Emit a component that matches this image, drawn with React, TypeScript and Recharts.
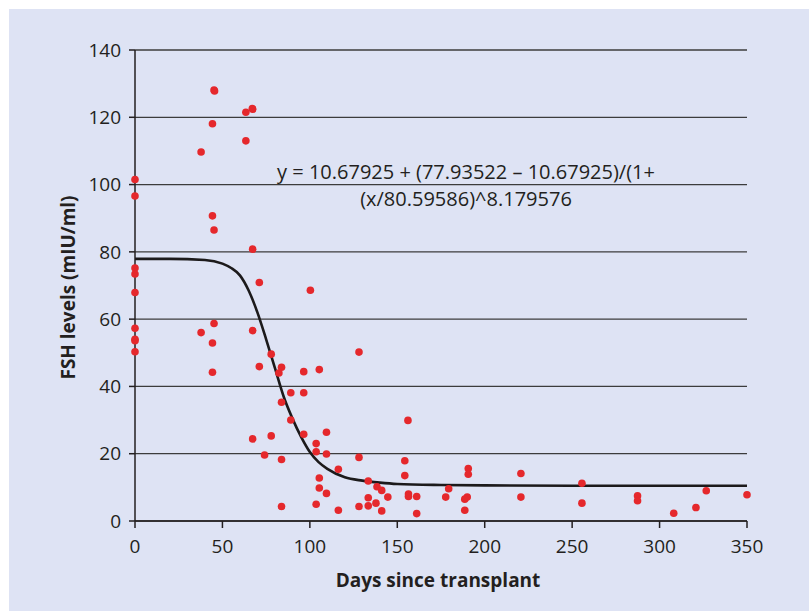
import React from "react";
import {
  ComposedChart,
  Scatter,
  Line,
  XAxis,
  YAxis,
  CartesianGrid,
  Label,
} from "recharts";

// observed FSH values (days since transplant / mIU/ml)
const days = [
  0, 0, 0, 0, 0, 0, 0, 0, 0,
  45.2, 45.5, 63.4, 67.3, 67.1, 44.3, 63.4, 37.8, 44.3, 45.2, 67.3,
  71.1, 100.3, 37.8, 45.2, 67.3, 44.3, 44.3, 71.1, 77.9, 83.8,
  82.3, 96.5, 105.4, 128.1, 89.1, 96.5, 83.8, 89.1, 96.5, 109.5,
  103.6, 103.6, 109.5, 67.3, 77.9, 74.1, 83.8, 83.8, 128.1, 116.3,
  105.4, 105.4, 109.5, 103.6, 116.3, 128.1, 133.4, 133.4, 133.4, 137.8,
  138.4, 141.1, 141.1, 144.6, 156.1, 154.3, 154.3, 156.4, 156.4, 161.1,
  161.1, 177.7, 179.4, 190.6, 190.6, 190.0, 188.6, 188.6, 220.7, 220.7,
  255.6, 255.6, 287.4, 287.4, 308.1, 320.8, 326.7, 350,
];
const fsh = [
  101.5, 96.6, 75.2, 73.4, 67.9, 57.3, 54.0, 53.6, 50.3,
  128.1, 127.8, 121.5, 122.4, 122.6, 118.1, 113.0, 109.7, 90.7, 86.5, 80.8,
  70.9, 68.6, 56.0, 58.7, 56.6, 52.9, 44.2, 45.9, 49.6, 45.7,
  44.0, 44.4, 45.0, 50.2, 38.1, 38.1, 35.3, 30.0, 25.8, 26.4,
  23.0, 20.6, 19.9, 24.4, 25.3, 19.6, 18.3, 4.3, 18.9, 15.4,
  12.8, 9.8, 8.2, 5.0, 3.2, 4.3, 11.9, 6.9, 4.5, 5.3,
  10.2, 9.1, 3.0, 7.1, 29.9, 17.9, 13.5, 8.0, 7.3, 7.3,
  2.2, 7.1, 9.6, 15.6, 13.9, 7.1, 6.5, 3.2, 14.1, 7.1,
  11.2, 5.3, 7.5, 6.0, 2.3, 4.0, 9.0, 7.8,
];

// fitted curve
const curveDays = [0, 20, 40, 50, 55, 60, 65, 70, 75, 80, 85, 90, 95, 100, 105, 110, 120, 130, 140, 150, 175, 200, 250, 300, 350];
const curveFsh = [77.9, 77.9, 77.6, 76.5, 75.2, 73.0, 68.5, 62.0, 54.0, 45.5, 37.0, 30.5, 25.0, 20.5, 17.5, 15.5, 13.0, 12.0, 11.4, 11.0, 10.7, 10.6, 10.5, 10.5, 10.5];

const xTicks = [0, 50, 100, 150, 200, 250, 300, 350];
const yTicks = [0, 20, 40, 60, 80, 100, 120, 140];

const points = days.map((d, i) => ({ x: d, y: fsh[i] }));
const curve = curveDays.map((d, i) => ({ x: d, y: curveFsh[i] }));

const INK = "#231f20";
const FONT = "'Open Sans', sans-serif";

const Dot = (props: any) => (
  <circle cx={props.cx} cy={props.cy} r={3.8} fill="#e5282c" />
);

export default function App() {
  return (
    <div style={{ position: "absolute", left: 0, top: 0, width: 809, height: 611, background: "#fff" }}>
      <div style={{ position: "absolute", left: 9, top: 9, width: 800, height: 602, background: "#dee3f4" }}>
        <ComposedChart
          width={800}
          height={602}
          margin={{ top: 41, right: 62, left: 0, bottom: 0 }}
          style={{ fontFamily: FONT }}
        >
          <CartesianGrid horizontal vertical={false} stroke="#3c3c3c" strokeWidth={1.3} />
          <XAxis
            type="number"
            dataKey="x"
            domain={[0, 350]}
            ticks={xTicks}
            height={90}
            tickSize={7}
            tickMargin={12}
            stroke={INK}
            strokeWidth={1.5}
            tick={{ fill: INK, fontSize: 19 }}
          >
            <Label
              content={({ viewBox }: any) => (
                <text
                  x={viewBox.x + viewBox.width / 2 - 3}
                  y={viewBox.y + 66}
                  textAnchor="middle"
                  fill={INK}
                  fontSize={19}
                  fontWeight={700}
                  fontFamily={FONT}
                >
                  Days since transplant
                </text>
              )}
            />
          </XAxis>
          <YAxis
            type="number"
            dataKey="y"
            domain={[0, 140]}
            ticks={yTicks}
            width={126}
            tickSize={6}
            tickMargin={8}
            stroke={INK}
            strokeWidth={1.5}
            tick={{ fill: INK, fontSize: 19 }}
          >
            <Label
              content={({ viewBox }: any) => {
                const cx = 66;
                const cy = viewBox.y + viewBox.height / 2 + 2;
                return (
                  <text
                    x={cx}
                    y={cy}
                    transform={`rotate(-90 ${cx} ${cy})`}
                    textAnchor="middle"
                    fill={INK}
                    fontSize={19}
                    fontWeight={700}
                    fontFamily={FONT}
                  >
                    FSH levels (mIU/ml)
                  </text>
                );
              }}
            />
          </YAxis>
          <Scatter data={points} shape={Dot} isAnimationActive={false} />
          <Line
            data={curve}
            dataKey="y"
            type="monotone"
            stroke="#1c1a1b"
            strokeWidth={2.6}
            dot={false}
            activeDot={false}
            isAnimationActive={false}
          />
        </ComposedChart>
      </div>
      <svg
        width={809}
        height={611}
        style={{ position: "absolute", left: 0, top: 0, pointerEvents: "none" }}
      >
        <text x={466} y={179} textAnchor="middle" fill={INK} fontSize={20} fontFamily={FONT}>
          y = 10.67925 + (77.93522 – 10.67925)/(1+
        </text>
        <text x={466} y={206} textAnchor="middle" fill={INK} fontSize={20} fontFamily={FONT}>
          (x/80.59586)^8.179576
        </text>
      </svg>
    </div>
  );
}
